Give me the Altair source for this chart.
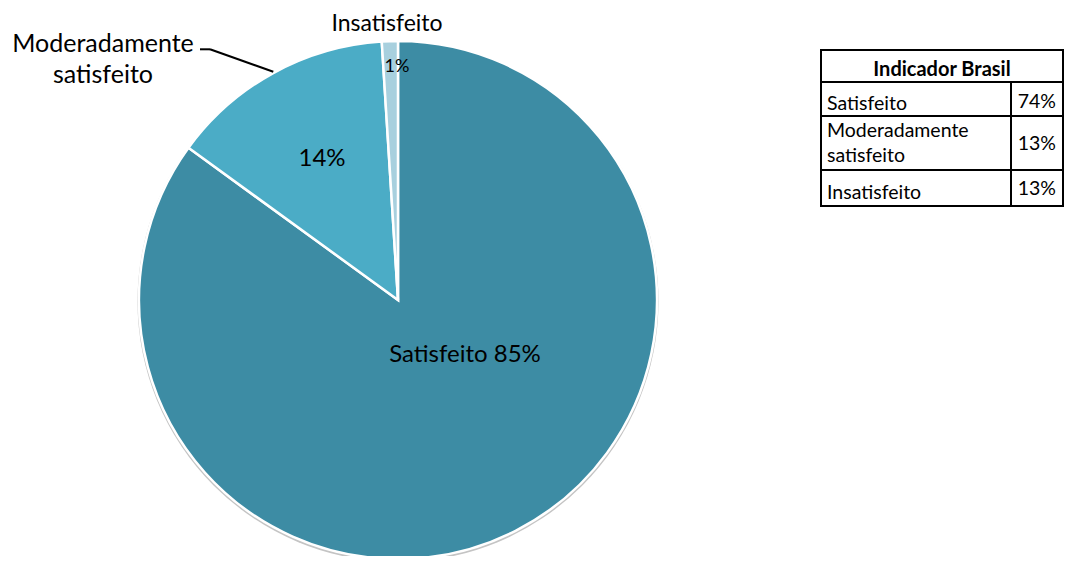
import altair as alt
import pandas as pd

# ---- data ----
categories = ["Satisfeito", "Moderadamente satisfeito", "Insatisfeito"]
shares = [85, 14, 1]
slice_labels = ["Satisfeito 85%", "14%", "1%"]
outer_labels = ["Moderadamente\nsatisfeito", "Insatisfeito"]
table_title = "Indicador Brasil"
table_rows = ["Satisfeito", "Moderadamente\nsatisfeito", "Insatisfeito"]
table_values = ["74%", "13%", "13%"]
colors = ["#3D8CA4", "#4BACC6", "#A8D0DE"]

FONT = "Lato"
pie_df = pd.DataFrame({"cat": categories, "share": shares, "order": list(range(len(categories)))})
dummy = pd.DataFrame({"a": [0]})

CX, CY, R = 390, 292, 259

shadow = alt.Chart(dummy).mark_arc(radius=R + 1.5, theta=0, theta2=6.2832, color="#c4c4c4").encode(
    x=alt.value(CX), y=alt.value(CY + 1.5)
)

pie = alt.Chart(pie_df).mark_arc(radius=R, stroke="white", strokeWidth=2.5).encode(
    theta=alt.Theta("share:Q", stack=True),
    color=alt.Color("cat:N", scale=alt.Scale(domain=categories, range=colors), legend=None),
    order=alt.Order("order:Q"),
    x=alt.value(CX),
    y=alt.value(CY),
)


def txt(s, x, y, size, align="center", weight="normal", line_height=None):
    kw = dict(text=s, fontSize=size, font=FONT, align=align, baseline="middle",
              fontWeight=weight, color="black", lineBreak="\n")
    if line_height:
        kw["lineHeight"] = line_height
    return alt.Chart(dummy).mark_text(**kw).encode(x=alt.value(x), y=alt.value(y))


def rule(x1, y1, x2, y2, w=2):
    return alt.Chart(dummy).mark_rule(color="black", strokeWidth=w).encode(
        x=alt.value(x1), y=alt.value(y1), x2=alt.value(x2), y2=alt.value(y2)
    )


labels = [
    txt(slice_labels[0], 457, 347, 24),
    txt(slice_labels[1], 314, 151, 24),
    txt(slice_labels[2], 389, 59, 18),
    txt(outer_labels[0], 95, 36, 25, line_height=31),
    txt(outer_labels[1], 379, 16, 23),
]

leader = [rule(192, 41.3, 202, 41.3), rule(202, 41.3, 265.3, 63.7)]

# table geometry (plot coordinates)
TL, TD, TR = 813, 1003, 1055
TY = [42, 74, 108, 162, 198]

table_box = alt.Chart(dummy).mark_rect(fill="white", stroke="black", strokeWidth=2).encode(
    x=alt.value(TL), x2=alt.value(TR), y=alt.value(TY[0]), y2=alt.value(TY[-1])
)
table_lines = [rule(TL, y, TR, y) for y in TY[1:-1]] + [rule(TD, TY[1], TD, TY[-1])]
table_text = [txt(table_title, (TL + TR) / 2, 62, 20, weight="bold")]
label_y = [96, 123, 185]
value_y = [94, 136, 181]
for i, (lab, val) in enumerate(zip(table_rows, table_values)):
    table_text.append(txt(lab, TL + 6, label_y[i], 19.5, align="left", line_height=25))
    table_text.append(txt(val, TR - 7, value_y[i], 19.5, align="right"))

chart = alt.layer(
    shadow, pie, *labels, *leader, table_box, *table_lines, *table_text
).properties(
    width=1056, height=548, padding=0, autosize=alt.AutoSizeParams(type="none")
).configure_view(stroke=None)

chart.save("out.html", embed_options={"renderer": "svg", "actions": False})
